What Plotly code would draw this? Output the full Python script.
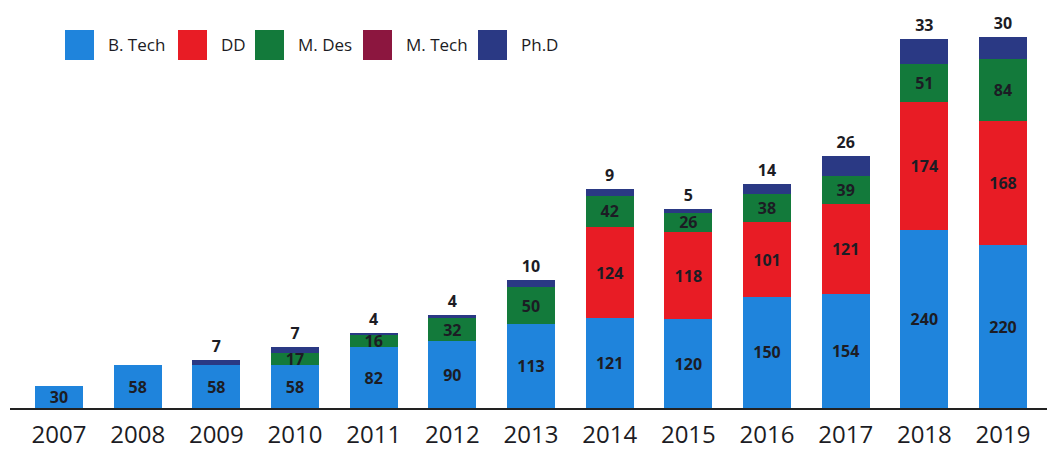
import plotly.graph_objects as go

years = ["2007", "2008", "2009", "2010", "2011", "2012", "2013",
         "2014", "2015", "2016", "2017", "2018", "2019"]
btech = [30, 58, 58, 58, 82, 90, 113, 121, 120, 150, 154, 240, 220]
dd = [0, 0, 0, 0, 0, 0, 0, 124, 118, 101, 121, 174, 168]
mdes = [0, 0, 0, 17, 16, 32, 50, 42, 26, 38, 39, 51, 84]
mtech = [0, 0, 0, 0, 0, 0, 0, 0, 0, 0, 0, 0, 0]
phd = [0, 0, 7, 7, 4, 4, 10, 9, 5, 14, 26, 33, 30]

series = [
    ("B. Tech", btech, "#1f84dc"),
    ("DD", dd, "#e81c25"),
    ("M. Des", mdes, "#137a3b"),
    ("M. Tech", mtech, "#8c163f"),
    ("Ph.D", phd, "#2a3984"),
]

FONT = "Open Sans"
TXT = "#1c1c24"

fig = go.Figure()
for name, vals, color in series:
    labels = [str(v) if v > 0 else "" for v in vals]
    outside = name == "Ph.D"
    fig.add_trace(go.Bar(
        x=years, y=vals, name=name, marker=dict(color=color, line=dict(width=0)),
        text=labels,
        textposition="outside" if outside else "inside",
        insidetextanchor="middle",
        textangle=0,
        textfont=dict(family=FONT, size=16, color=TXT, weight=700),
        cliponaxis=False,
        constraintext="none",
        showlegend=False,
    ))

# page body has an 8px margin; figure sized to fill the rest of the window
OFF = 8
W, H = 1055 - OFF, 455 - OFF
ML, MR, MT, MB = 2, 0, 10, 47
PW = W - ML - MR
PH = H - MT - MB

def px(x):  # screen x -> paper
    return (x - OFF - ML) / PW

def py(y):  # screen y -> paper
    return (H - MB - (y - OFF)) / PH

# manual legend (large square swatches)
leg_sq = [65, 178, 255, 363, 478]
leg_tx = [106, 219, 296, 404, 519]
cy = 45
for (name, vals, color), sx, tx in zip(series, leg_sq, leg_tx):
    fig.add_shape(type="rect", xref="paper", yref="paper",
                  x0=px(sx), x1=px(sx + 29), y0=py(cy + 15), y1=py(cy - 15),
                  fillcolor=color, line=dict(width=0))
    fig.add_annotation(xref="paper", yref="paper", x=px(tx), y=py(cy),
                       text=name, showarrow=False, xanchor="left", yanchor="middle",
                       font=dict(family=FONT, size=17, color=TXT, weight=500))

fig.update_layout(
    width=W, height=H,
    barmode="stack",
    bargap=0.39,
    plot_bgcolor="white", paper_bgcolor="white",
    margin=dict(l=ML, r=MR, t=MT, b=MB),
    uniformtext=dict(minsize=16, mode="show"),
    xaxis=dict(type="category", range=[-0.623, 12.661], showline=True,
               linecolor="#222", linewidth=1.5, ticks="", showgrid=False,
               tickfont=dict(family=FONT, size=24, color=TXT, weight=500),
               ticklabelstandoff=4),
    yaxis=dict(range=[0, 527], visible=False, showgrid=False, zeroline=False),
)

fig.write_html("out.html")
